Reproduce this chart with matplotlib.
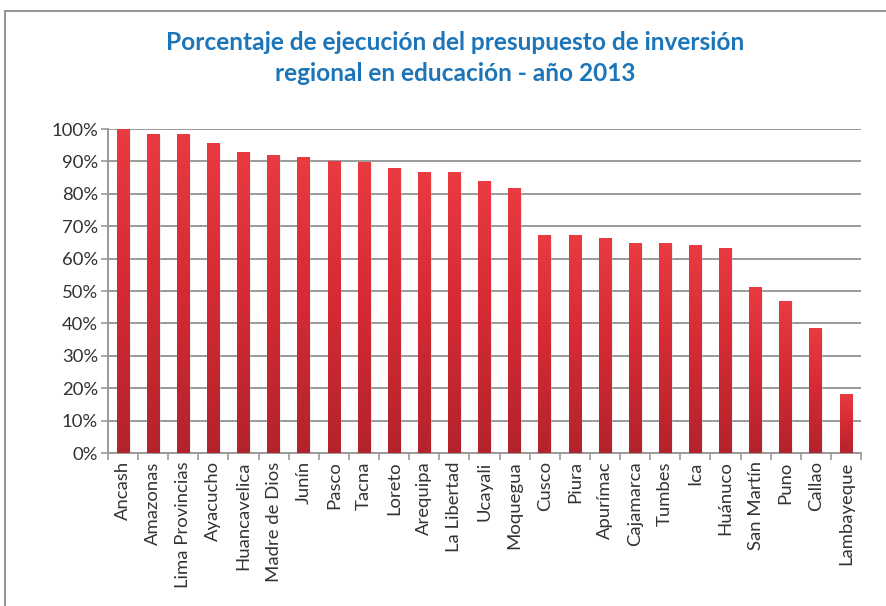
import numpy as np
import matplotlib
matplotlib.use("Agg")
import matplotlib.pyplot as plt
from matplotlib.patches import Rectangle
from matplotlib.ticker import PercentFormatter, MultipleLocator
from matplotlib.colors import LinearSegmentedColormap

regions = ["Ancash", "Amazonas", "Lima Provincias", "Ayacucho", "Huancavelica",
           "Madre de Dios", "Junín", "Pasco", "Tacna", "Loreto", "Arequipa",
           "La Libertad", "Ucayali", "Moquegua", "Cusco", "Piura", "Apurímac",
           "Cajamarca", "Tumbes", "Ica", "Huánuco", "San Martín", "Puno",
           "Callao", "Lambayeque"]
execution = [100.0, 98.4, 98.4, 95.8, 93.0, 92.0, 91.5, 90.1, 89.8, 87.9, 86.7,
             86.7, 83.9, 81.9, 67.4, 67.4, 66.4, 64.7, 64.7, 64.3, 63.4, 51.3,
             46.8, 38.5, 18.1]
title = "Porcentaje de ejecución del presupuesto de inversión\nregional en educación - año 2013"

plt.rcParams['font.family'] = ['Lato', 'DejaVu Sans']

fig = plt.figure(figsize=(8.87, 6.06), dpi=100)
fig.patch.set_facecolor("white")

# outer frame of the chart area (runs off the right and bottom edges)
frame = Rectangle((5 / 887, -0.05), 1.2, 1 - 11 / 606 + 0.05,
                  transform=fig.transFigure, fill=False,
                  edgecolor="#8a8a8a", linewidth=1.3)
fig.add_artist(frame)

ax = fig.add_axes([108 / 887, 1 - 453 / 606, (861 - 108) / 887, (453 - 129) / 606])

x = np.arange(len(regions))
bar_w = 0.42
bars = ax.bar(x, execution, width=bar_w, color="none", edgecolor="none", zorder=3)

# vertical red gradient inside each bar
grad_cmap = LinearSegmentedColormap.from_list("redgrad", ["#b3232c", "#d42a33", "#ea3a42"])
gradient = np.linspace(0, 1, 256).reshape(-1, 1)
for b in bars:
    x0, y0 = b.get_x(), b.get_y()
    w, h = b.get_width(), b.get_height()
    # soft shadow to the right of the bar
    ax.add_patch(Rectangle((x0 + 0.04, y0), w, h - 0.3, facecolor="#c9c9c9",
                           alpha=0.35, edgecolor="none", zorder=2.5))
    im = ax.imshow(gradient, cmap=grad_cmap, aspect="auto", origin="lower",
                   extent=(x0, x0 + w, y0, y0 + h), zorder=3.1)
    im.set_clip_path(b)

ax.set_xlim(-0.5, len(regions) - 0.5)
ax.set_ylim(0, 100)
ax.yaxis.set_major_locator(MultipleLocator(10))
ax.yaxis.set_major_formatter(PercentFormatter(decimals=0))
ax.grid(axis="y", color="#9a9a9a", linewidth=1.4, zorder=1)
ax.set_axisbelow(True)

ax.set_xticks(x)
ax.set_xticklabels(regions, rotation=90, fontsize=13.3, color="#333333")
ax.tick_params(axis="x", which="major", length=0, pad=6)
ax.set_xticks(np.arange(-0.5, len(regions) + 0.5, 1), minor=True)
ax.tick_params(axis="x", which="minor", length=5, color="#9a9a9a", width=1.2)
ax.tick_params(axis="y", length=5, color="#9a9a9a", width=1.2,
               labelsize=13.3, labelcolor="#333333", pad=2)

for side in ("top", "right"):
    ax.spines[side].set_visible(False)
for side in ("left", "bottom"):
    ax.spines[side].set_color("#9a9a9a")
    ax.spines[side].set_linewidth(1.4)

fig.text(455 / 887, 1 - 58 / 606, title, ha="center", va="center",
         fontsize=17.6, fontweight="bold", color="#1b75b8",
         linespacing=1.38, family=["Lato", "DejaVu Sans"])

fig.savefig("out.png", dpi=100, facecolor="white")
